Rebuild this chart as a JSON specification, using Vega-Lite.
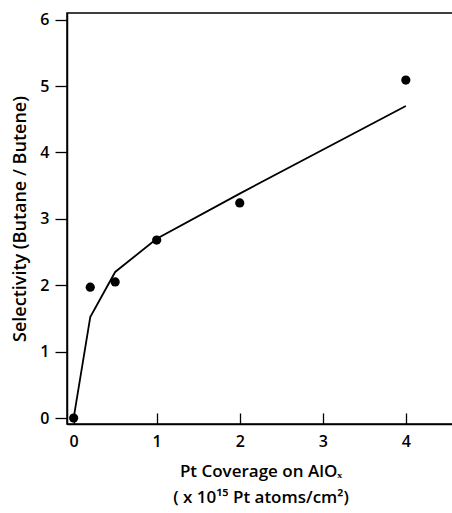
{
  "$schema": "https://vega.github.io/schema/vega-lite/v6.json",
  "autosize": {"type": "none"},
  "width": 387,
  "height": 411,
  "padding": {"left": 67, "top": 13, "right": 0, "bottom": 89},
  "background": "white",
  "config": {
    "view": {"stroke": "black", "strokeWidth": 1.5},
    "axis": {
      "labelFont": "Open Sans",
      "labelFontWeight": 600,
      "labelFontSize": 16,
      "labelColor": "black",
      "titleFont": "Open Sans",
      "titleFontWeight": 600,
      "titleFontSize": 17,
      "titleColor": "black",
      "domainColor": "black",
      "domainWidth": 1.5,
      "tickColor": "black",
      "tickWidth": 1.3,
      "grid": false
    }
  },
  "datasets": {
    "points": [
      {"coverage": 0, "selectivity": 0},
      {"coverage": 0.2, "selectivity": 1.97},
      {"coverage": 0.5, "selectivity": 2.05},
      {"coverage": 1, "selectivity": 2.68},
      {"coverage": 2, "selectivity": 3.24},
      {"coverage": 4, "selectivity": 5.09}
    ],
    "fit": [
      {"coverage": 0, "selectivity": 0},
      {"coverage": 0.2, "selectivity": 1.52},
      {"coverage": 0.5, "selectivity": 2.2},
      {"coverage": 1, "selectivity": 2.7},
      {"coverage": 2, "selectivity": 3.38},
      {"coverage": 4, "selectivity": 4.7}
    ]
  },
  "encoding": {
    "x": {
      "field": "coverage",
      "type": "quantitative",
      "scale": {"domain": [-0.08, 4.58], "nice": false, "zero": false},
      "axis": {
        "values": [0, 1, 2, 3, 4],
        "tickSize": -11,
        "labelPadding": 20,
        "title": ["Pt Coverage on AlOₓ", "( x 10¹⁵ Pt atoms/cm²)"],
        "titleLineHeight": 26,
        "titlePadding": 14
      }
    },
    "y": {
      "field": "selectivity",
      "type": "quantitative",
      "scale": {"domain": [-0.09, 6.1], "nice": false, "zero": false},
      "axis": {
        "values": [0, 1, 2, 3, 4, 5, 6],
        "tickSize": 12,
        "labelPadding": 6,
        "title": "Selectivity (Butane / Butene)",
        "titleFontSize": 18,
        "titlePadding": 10
      }
    }
  },
  "layer": [
    {
      "data": {"name": "fit"},
      "mark": {"type": "line", "color": "black", "strokeWidth": 1.8}
    },
    {
      "data": {"name": "points"},
      "mark": {"type": "point", "filled": true, "color": "black", "opacity": 1, "size": 85}
    }
  ]
}
